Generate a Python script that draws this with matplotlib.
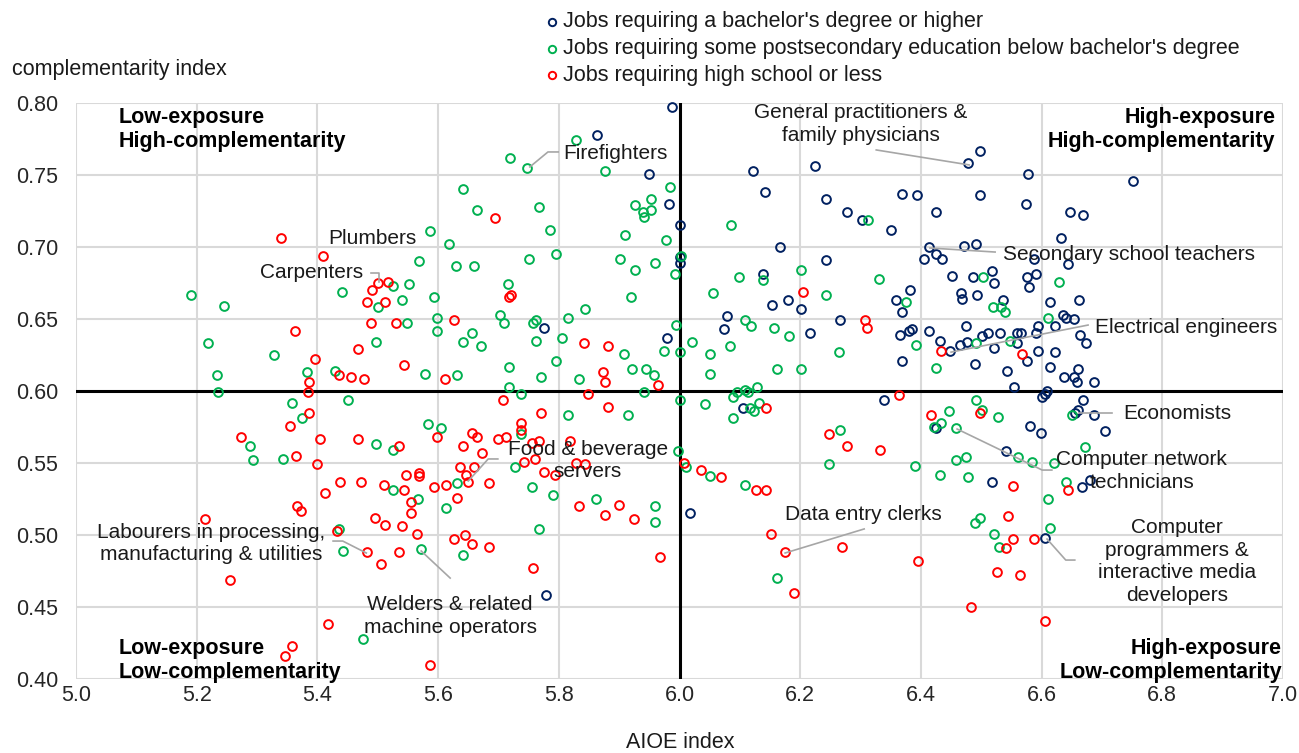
import matplotlib.pyplot as plt
from matplotlib.lines import Line2D

plt.rcParams['font.family'] = ['Liberation Sans', 'DejaVu Sans']

# === DATA (AIOE index, complementarity index) ===
bach_x = [5.988, 5.863, 5.949, 5.983, 6.000, 6.000, 6.000, 5.775, 5.980, 5.778,
          6.121, 6.225, 6.478, 6.498, 6.141, 6.242, 6.368, 6.394, 6.498, 6.278,
          6.303, 6.425, 6.351, 6.166, 6.414, 6.472, 6.492, 6.425, 6.435, 6.405,
          6.243, 6.139, 6.452, 6.486, 6.382, 6.359, 6.467, 6.468, 6.493, 6.180,
          6.154, 6.202, 6.369, 6.079, 6.073, 6.266, 6.217, 6.366, 6.380, 6.385,
          6.414, 6.474, 6.432, 6.465, 6.477, 6.449, 6.368, 6.490, 6.106, 6.339,
          6.425, 6.018,
          6.578, 6.752, 6.574, 6.647, 6.669, 6.632, 6.588, 6.644, 6.518, 6.521,
          6.576, 6.591, 6.579, 6.536, 6.614, 6.662, 6.636, 6.641, 6.654, 6.594,
          6.622, 6.502, 6.512, 6.531, 6.560, 6.566, 6.591, 6.560, 6.664, 6.674,
          6.521, 6.576, 6.594, 6.622, 6.543, 6.614, 6.554, 6.637, 6.654, 6.660,
          6.659, 6.687, 6.609, 6.601, 6.606, 6.669, 6.660, 6.656, 6.687, 6.581,
          6.599, 6.705, 6.541, 6.518, 6.667, 6.680, 6.606]
bach_y = [0.797, 0.778, 0.751, 0.730, 0.715, 0.693, 0.689, 0.644, 0.637, 0.458,
          0.753, 0.756, 0.758, 0.767, 0.738, 0.733, 0.737, 0.736, 0.736, 0.724,
          0.719, 0.724, 0.712, 0.700, 0.700, 0.701, 0.702, 0.695, 0.692, 0.692,
          0.691, 0.681, 0.680, 0.679, 0.670, 0.663, 0.668, 0.664, 0.667, 0.663,
          0.660, 0.657, 0.655, 0.652, 0.643, 0.649, 0.640, 0.639, 0.642, 0.643,
          0.642, 0.645, 0.635, 0.632, 0.634, 0.628, 0.621, 0.619, 0.588, 0.594,
          0.574, 0.515,
          0.751, 0.746, 0.730, 0.724, 0.722, 0.706, 0.692, 0.688, 0.683, 0.675,
          0.679, 0.681, 0.672, 0.663, 0.662, 0.663, 0.653, 0.651, 0.650, 0.645,
          0.645, 0.638, 0.640, 0.640, 0.640, 0.640, 0.640, 0.633, 0.639, 0.633,
          0.630, 0.621, 0.628, 0.627, 0.614, 0.617, 0.603, 0.610, 0.610, 0.615,
          0.606, 0.606, 0.600, 0.596, 0.598, 0.594, 0.587, 0.585, 0.583, 0.576,
          0.571, 0.572, 0.558, 0.537, 0.533, 0.538, 0.498]

post_x = [5.190, 5.245, 5.440, 5.500, 5.497, 5.218, 5.328, 5.233, 5.382, 5.429,
          5.235, 5.358, 5.450, 5.374, 5.288, 5.497, 5.293, 5.343, 5.435, 5.442,
          5.475,
          5.828, 5.719, 5.747, 5.876, 5.985, 5.642, 5.952, 5.927, 5.952, 5.939,
          5.942, 5.767, 5.664, 5.785, 5.586, 5.909, 5.978, 5.618, 5.796, 5.750,
          5.901, 5.568, 5.629, 5.660, 5.960, 5.927, 5.993, 5.525, 5.551, 5.715,
          5.593, 5.540, 5.919, 5.844, 5.598, 5.702, 5.815, 5.762, 5.757, 5.710,
          5.548, 5.598, 5.656, 5.995, 5.641, 5.762, 5.805, 5.671, 5.974, 5.908,
          6.000, 5.796, 5.718, 5.922, 5.945, 5.579, 5.632, 5.770, 5.957, 5.833,
          5.718, 5.737, 5.942,
          5.815, 5.915, 5.583, 5.604, 5.737, 5.526, 5.997, 5.728, 5.631, 5.525,
          5.755, 5.791, 5.566, 5.613, 5.768, 5.571, 5.641, 5.861, 5.960, 5.960,
          6.000,
          6.002, 6.086, 6.313, 6.202, 6.099, 6.139, 6.331, 6.056, 6.243, 6.375,
          6.109, 6.119, 6.156, 6.182, 6.492, 6.020, 6.051, 6.084, 6.265, 6.392,
          6.161, 6.202, 6.425, 6.050, 6.096, 6.109, 6.129, 6.089, 6.114, 6.043,
          6.117, 6.124, 6.132, 6.089, 6.266, 6.446, 6.422, 6.434, 6.458, 6.492,
          6.247, 6.391, 6.432, 6.458, 6.474, 6.478, 6.011, 6.051, 6.108, 6.162,
          6.490, 6.498,
          6.503, 6.629, 6.520, 6.533, 6.540, 6.611, 6.548, 6.502, 6.528, 6.651,
          6.672, 6.561, 6.584, 6.620, 6.641, 6.611, 6.614, 6.521, 6.530]
post_y = [0.667, 0.659, 0.669, 0.658, 0.634, 0.633, 0.625, 0.611, 0.613, 0.614,
          0.599, 0.592, 0.594, 0.581, 0.562, 0.563, 0.552, 0.553, 0.504, 0.489,
          0.428,
          0.774, 0.762, 0.755, 0.753, 0.742, 0.740, 0.733, 0.729, 0.726, 0.724,
          0.721, 0.728, 0.726, 0.712, 0.711, 0.708, 0.705, 0.702, 0.695, 0.692,
          0.692, 0.690, 0.687, 0.687, 0.689, 0.684, 0.681, 0.673, 0.674, 0.674,
          0.665, 0.663, 0.665, 0.657, 0.651, 0.653, 0.651, 0.649, 0.647, 0.647,
          0.647, 0.642, 0.640, 0.646, 0.634, 0.635, 0.637, 0.631, 0.628, 0.626,
          0.627, 0.621, 0.617, 0.615, 0.615, 0.612, 0.611, 0.610, 0.611, 0.608,
          0.603, 0.598, 0.599,
          0.583, 0.583, 0.577, 0.574, 0.570, 0.559, 0.558, 0.547, 0.536, 0.531,
          0.533, 0.528, 0.525, 0.519, 0.504, 0.490, 0.486, 0.525, 0.520, 0.509,
          0.594,
          0.694, 0.715, 0.719, 0.684, 0.679, 0.677, 0.678, 0.668, 0.667, 0.662,
          0.649, 0.645, 0.644, 0.638, 0.633, 0.634, 0.626, 0.631, 0.627, 0.632,
          0.615, 0.615, 0.616, 0.612, 0.599, 0.601, 0.603, 0.596, 0.599, 0.591,
          0.588, 0.586, 0.592, 0.581, 0.573, 0.586, 0.575, 0.578, 0.574, 0.594,
          0.549, 0.548, 0.542, 0.552, 0.554, 0.540, 0.547, 0.541, 0.535, 0.470,
          0.508, 0.512,
          0.679, 0.676, 0.658, 0.658, 0.655, 0.651, 0.635, 0.587, 0.582, 0.583,
          0.561, 0.554, 0.551, 0.550, 0.537, 0.525, 0.505, 0.501, 0.492]

hs_x = [5.339, 5.409, 5.500, 5.490, 5.483, 5.363, 5.488, 5.396, 5.467, 5.435,
        5.455, 5.478, 5.386, 5.384, 5.386, 5.354, 5.273, 5.404, 5.467, 5.364,
        5.399, 5.437, 5.472, 5.412, 5.366, 5.372, 5.213, 5.495, 5.433, 5.483,
        5.505, 5.255, 5.417, 5.358, 5.347,
        5.694, 5.517, 5.512, 5.720, 5.718, 5.530, 5.627, 5.841, 5.882, 5.543,
        5.874, 5.611, 5.877, 5.964, 5.849,
        5.707, 5.881, 5.770, 5.737, 5.737, 5.599, 5.656, 5.664, 5.699, 5.712,
        5.755, 5.767, 5.818, 5.535, 5.641, 5.672, 5.760, 5.742, 5.829, 5.844,
        5.636, 5.659, 5.775, 5.793, 5.546, 5.568, 5.568, 5.647, 5.649, 5.685,
        5.510, 5.594, 5.613, 5.543, 5.631, 5.555, 5.555, 5.512, 5.541, 5.565,
        5.626, 5.644, 5.656, 5.685, 5.536, 5.757, 5.586, 5.834, 5.876, 5.899,
        5.925, 5.967,
        6.205, 6.308, 6.310, 6.434, 6.144, 6.363, 6.247, 6.278, 6.333, 6.417,
        6.498, 6.008, 6.035, 6.068, 6.126, 6.144, 6.152, 6.174, 6.270, 6.189,
        6.396, 6.483,
        6.568, 6.553, 6.644, 6.545, 6.541, 6.553, 6.588, 6.526, 6.564, 6.606]
hs_y = [0.706, 0.694, 0.675, 0.670, 0.662, 0.642, 0.647, 0.622, 0.629, 0.611,
        0.610, 0.608, 0.606, 0.599, 0.585, 0.576, 0.568, 0.567, 0.567, 0.555,
        0.549, 0.537, 0.537, 0.529, 0.520, 0.517, 0.511, 0.512, 0.503, 0.488,
        0.480, 0.469, 0.438, 0.423, 0.416,
        0.720, 0.676, 0.662, 0.667, 0.665, 0.647, 0.649, 0.633, 0.631, 0.618,
        0.613, 0.608, 0.606, 0.604, 0.598,
        0.594, 0.589, 0.585, 0.578, 0.573, 0.568, 0.571, 0.568, 0.567, 0.568,
        0.564, 0.565, 0.565, 0.562, 0.562, 0.557, 0.553, 0.551, 0.550, 0.549,
        0.547, 0.547, 0.544, 0.542, 0.542, 0.543, 0.541, 0.542, 0.537, 0.536,
        0.535, 0.533, 0.535, 0.531, 0.526, 0.523, 0.515, 0.507, 0.506, 0.501,
        0.497, 0.500, 0.494, 0.492, 0.488, 0.477, 0.410, 0.520, 0.514, 0.521,
        0.511, 0.485,
        0.669, 0.649, 0.644, 0.628, 0.588, 0.597, 0.570, 0.562, 0.559, 0.583,
        0.585, 0.550, 0.545, 0.540, 0.531, 0.531, 0.501, 0.488, 0.492, 0.460,
        0.482, 0.450,
        0.626, 0.534, 0.531, 0.513, 0.491, 0.497, 0.497, 0.474, 0.472, 0.440]

legend_labels = ["Jobs requiring a bachelor's degree or higher",
                 "Jobs requiring some postsecondary education below bachelor's degree",
                 "Jobs requiring high school or less"]
colors = ['#002060', '#00b050', '#ff0000']

x_ticks = [5.0, 5.2, 5.4, 5.6, 5.8, 6.0, 6.2, 6.4, 6.6, 6.8, 7.0]
y_ticks = [0.40, 0.45, 0.50, 0.55, 0.60, 0.65, 0.70, 0.75, 0.80]

# callouts: text, text position, alignment, connector path
callouts = [
    ("Firefighters", (5.807, 0.7646), 'left', [(5.752, 0.7556), (5.782, 0.766), (5.799, 0.766)]),
    ("Plumbers", (5.5634, 0.7056), 'right', None),
    ("Carpenters", (5.476, 0.682), 'right', [(5.489, 0.682), (5.502, 0.682), (5.502, 0.6757)]),
    ("General practitioners &\nfamily physicians", (6.301, 0.7854), 'center', [(6.326, 0.7674), (6.480, 0.757)]),
    ("Secondary school teachers", (6.536, 0.6951), 'left', [(6.415, 0.6993), (6.523, 0.6965)]),
    ("Electrical engineers", (6.688, 0.6444), 'left', [(6.450, 0.627), (6.677, 0.6458)]),
    ("Economists", (6.735, 0.5847), 'left', [(6.662, 0.5847), (6.717, 0.5847)]),
    ("Computer network\ntechnicians", (6.766, 0.5444), 'center', [(6.460, 0.5736), (6.601, 0.5451), (6.617, 0.5451)]),
    ("Computer\nprogrammers &\ninteractive media\ndevelopers", (6.824, 0.4816), 'center', [(6.609, 0.4972), (6.640, 0.4826), (6.655, 0.4826)]),
    ("Data entry clerks", (6.175, 0.5139), 'left', [(6.175, 0.4875), (6.306, 0.5042)]),
    ("Food & beverage\nservers", (5.848, 0.5517), 'center', [(5.650, 0.5375), (5.683, 0.5528), (5.699, 0.5528)]),
    ("Labourers in processing,\nmanufacturing & utilities", (5.2245, 0.4941), 'center', [(5.426, 0.4958), (5.442, 0.4958), (5.481, 0.4875)]),
    ("Welders & related\nmachine operators", (5.620, 0.4437), 'center', [(5.572, 0.4889), (5.620, 0.4701)]),
]

# === FIGURE ===
fig = plt.figure(figsize=(12.99, 7.53), dpi=100)
ax = fig.add_axes([76 / 1299, 1 - 679 / 753, (1283 - 76) / 1299, (679 - 103) / 753])

ax.set_xlim(5.0, 7.0)
ax.set_ylim(0.40, 0.80)
ax.set_xticks(x_ticks)
ax.set_yticks(y_ticks)
ax.set_xticklabels([f"{v:.1f}" for v in x_ticks])
ax.set_yticklabels([f"{v:.2f}" for v in y_ticks])
ax.tick_params(length=0, labelsize=15.5, colors='#262626')
ax.tick_params(axis='y', pad=13)
ax.tick_params(axis='x', pad=4)
ax.grid(True, color='#d9d9d9', lw=1.5)
ax.set_axisbelow(True)
for s in ax.spines.values():
    s.set_visible(False)

ax.axvline(6.0, color='black', lw=2.2, zorder=1)
ax.axhline(0.60, color='black', lw=2.2, zorder=1)

for xs, ys, c in [(bach_x, bach_y, colors[0]), (post_x, post_y, colors[1]), (hs_x, hs_y, colors[2])]:
    ax.plot(xs, ys, 'o', ls='none', ms=6.3, mfc='none', mec=c, mew=1.4, zorder=3, clip_on=False)

for txt, (tx, ty), ha, path in callouts:
    ax.text(tx, ty, txt, ha=ha, va='center', fontsize=15, color='#1a1a1a', linespacing=1.25, zorder=5)
    if path:
        ax.plot([p[0] for p in path], [p[1] for p in path], color='#a6a6a6', lw=1.2, zorder=4)

qkw = dict(fontsize=15.5, fontweight='bold', color='black', linespacing=1.15)
ax.text(5.071, 0.797, "Low-exposure\nHigh-complementarity", ha='left', va='top', **qkw)
ax.text(6.987, 0.797, "High-exposure\nHigh-complementarity", ha='right', va='top', **qkw)
ax.text(5.070, 0.3975, "Low-exposure\nLow-complementarity", ha='left', va='bottom', **qkw)
ax.text(6.998, 0.3975, "High-exposure\nLow-complementarity", ha='right', va='bottom', **qkw)

# axis titles
fig.text(12 / 1299, 1 - 70 / 753, "complementarity index", ha='left', va='center', fontsize=15.5, color='#1a1a1a')
fig.text(680 / 1299, 1 - 742 / 753, "AIOE index", ha='center', va='center', fontsize=15.5, color='#1a1a1a')

# legend (manual, top centre)
for i, (lab, c) in enumerate(zip(legend_labels, colors)):
    yy = 1 - (22 + i * 26.5) / 753
    fig.add_artist(Line2D([552 / 1299], [yy], marker='o', ms=5.3, mfc='none', mec=c, mew=1.4,
                          transform=fig.transFigure))
    fig.text(563 / 1299, yy, lab, ha='left', va='center', fontsize=15.5, color='#1a1a1a')

fig.savefig('out.png', dpi=100)
